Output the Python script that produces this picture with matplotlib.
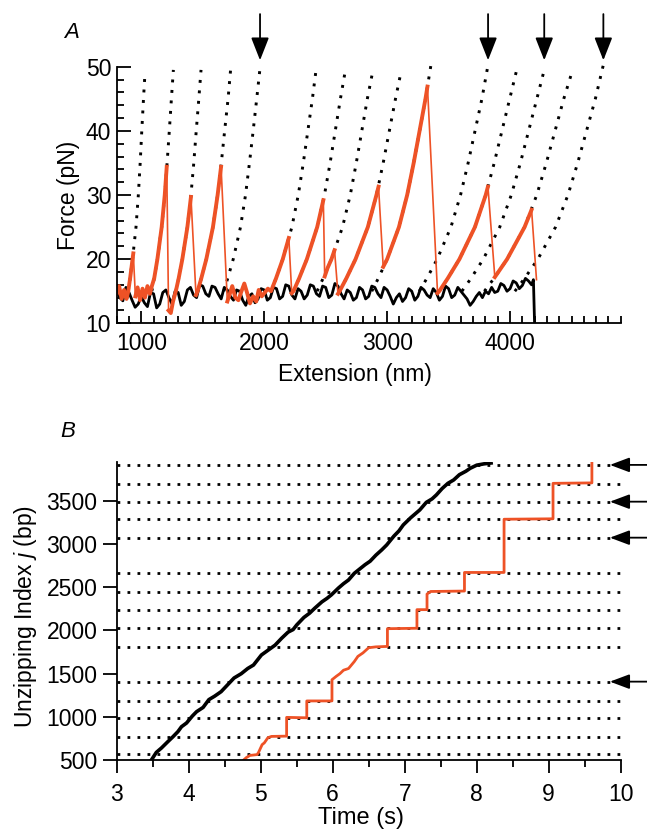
import matplotlib
matplotlib.use("Agg")
import matplotlib.pyplot as plt
from matplotlib.ticker import MultipleLocator, FixedLocator

plt.rcParams.update({"font.family": ["Liberation Sans", "DejaVu Sans"],
                     "mathtext.fontset": "custom",
                     "mathtext.rm": "Liberation Sans",
                     "mathtext.it": "Liberation Sans:italic",
                     "axes.linewidth": 1.3})

ORANGE = "#EE5226"
DOTS = (0, (1, 2.6))

# ---------------------------------------------------------------- panel A data
# dotted model curves, x read at these forces (pN); last point is each curve's top
DOT_F = [15, 17, 20, 25, 30, 35, 40, 45]
DOT_TOP_F = [49.0, 49.5, 49.5, 50.3, 49.8, 50.0, 49.2, 49.0, 49.2, 50.1,
             50.3, 49.5, 49.5, 49.0, 50.3]
DOT_X = [
    [894, 909, 929, 957, 976, 991, 1004, 1018, 1030],
    [1086, 1105, 1131, 1166, 1191, 1210, 1228, 1245, 1261],
    [1281, 1304, 1334, 1375, 1404, 1427, 1447, 1468, 1486],
    [1458, 1488, 1529, 1583, 1621, 1651, 1678, 1706, 1730],
    [1671, 1703, 1748, 1807, 1848, 1880, 1910, 1939, 1966],
    [2055, 2096, 2151, 2225, 2277, 2318, 2355, 2392, 2425],
    [2238, 2284, 2347, 2431, 2490, 2536, 2578, 2620, 2658],
    [2430, 2479, 2547, 2637, 2700, 2749, 2794, 2839, 2880],
    [2613, 2668, 2743, 2843, 2913, 2968, 3018, 3068, 3113],
    [2875, 2928, 3000, 3096, 3163, 3216, 3264, 3312, 3355],
    [3261, 3323, 3407, 3519, 3597, 3659, 3715, 3771, 3821],
    [3424, 3493, 3588, 3714, 3802, 3871, 3934, 3997, 4054],
    [3608, 3682, 3782, 3916, 4010, 4084, 4151, 4218, 4278],
    [3791, 3869, 3976, 4118, 4217, 4295, 4366, 4437, 4501],
    [4039, 4118, 4226, 4370, 4471, 4550, 4622, 4694, 4759],
]
ARROW_CURVES = [4, 10, 12, 14]

# black trace (no pauses), read every 25 nm
BLACK_EXT = list(range(800, 4151, 25)) + [4175, 4190, 4200]
BLACK_F = [
    15.5, 14.0, 13.5, 15.6, 14.8, 13.6, 12.5, 13.0, 14.2, 13.2,
    12.6, 14.8, 14.6, 12.4, 13.0, 14.8, 15.2, 14.0, 13.0, 15.0,
    14.8, 12.8, 13.4, 15.2, 15.6, 14.4, 14.0, 16.0, 15.8, 14.6,
    14.2, 15.8, 15.6, 14.6, 13.8, 15.6, 15.2, 14.2, 13.6, 15.2,
    15.0, 13.6, 12.8, 14.2, 14.6, 13.2, 13.8, 15.4, 15.2, 13.6,
    14.0, 15.6, 15.4, 13.8, 14.2, 16.0, 15.8, 14.4, 13.8, 15.4,
    15.0, 13.8, 14.4, 16.0, 15.8, 14.6, 14.2, 15.8, 15.6, 14.0,
    14.4, 16.2, 15.8, 14.6, 13.8, 15.2, 14.8, 13.6, 14.0, 15.6,
    15.2, 13.8, 14.2, 15.8, 15.6, 14.6, 14.0, 15.6, 15.2, 14.2,
    13.0, 14.0, 14.6, 13.4, 14.0, 15.4, 15.0, 13.6, 14.2, 15.6,
    15.2, 14.4, 14.0, 15.4, 14.8, 13.6, 14.2, 15.8, 15.4, 14.0,
    14.4, 15.6, 15.0, 14.4, 13.8, 12.8, 13.4, 14.2, 14.8, 14.0,
    15.0, 14.6, 15.6, 14.8, 15.0, 16.2, 15.9, 15.0, 15.4, 16.6,
    16.3, 15.4, 15.9, 17.0, 16.6, 16.0, 16.8, 9.5]

# orange trace, one list per rise (drops join consecutive rises)
ORANGE_EXT = [
    [800, 820, 840, 860, 880, 894, 909, 929, 935],
    [952, 970, 990, 1010, 1030, 1050, 1070, 1086, 1105, 1131, 1166, 1191, 1207],
    [1222, 1240, 1258, 1281, 1304, 1334, 1375, 1404],
    [1445, 1458, 1488, 1529, 1583, 1621, 1649],
    [1700, 1720, 1740, 1765, 1790, 1815, 1838, 1860, 1884, 1910, 1935, 1955,
     1980, 2005, 2030, 2055, 2096, 2151, 2200],
    [2224, 2238, 2284, 2347, 2431, 2481],
    [2492, 2515, 2547, 2572],
    [2600, 2613, 2668, 2743, 2843, 2913, 2930],
    [2968, 3000, 3096, 3163, 3216, 3264, 3312, 3328],
    [3410, 3424, 3493, 3588, 3714, 3802, 3820],
    [3876, 3976, 4118, 4175],
    [4215],
]
ORANGE_F = [
    [14.6, 15.8, 13.8, 15.2, 13.8, 15.0, 17.0, 20.0, 20.9],
    [14.2, 15.6, 13.6, 15.4, 14.0, 15.8, 14.6, 15.8, 17.0, 20.0, 25.0, 30.0, 34.4],
    [12.0, 11.6, 13.4, 15.0, 17.0, 20.0, 25.0, 29.7],
    [14.4, 15.0, 17.0, 20.0, 25.0, 30.0, 34.4],
    [13.4, 14.6, 15.8, 14.0, 13.6, 15.0, 16.2, 14.8, 13.1, 14.2, 13.4, 15.2,
     14.2, 14.8, 15.4, 15.0, 17.0, 20.0, 23.3],
    [14.7, 15.0, 17.0, 20.0, 25.0, 29.2],
    [17.3, 18.6, 20.0, 21.4],
    [14.6, 15.0, 17.0, 20.0, 25.0, 30.0, 31.3],
    [18.8, 20.0, 25.0, 30.0, 35.0, 40.0, 45.0, 46.9],
    [14.7, 15.0, 17.0, 20.0, 25.0, 30.0, 31.3],
    [17.2, 20.0, 25.0, 27.7],
    [16.8],
]

# ---------------------------------------------------------------- panel B data
B_LINES = [568, 772, 984, 1184, 1408, 1812, 2025, 2236, 2448, 2661,
           3072, 3285, 3488, 3690, 3913]
B_ARROWS = [3913, 3488, 3072, 1408]

BLACK_T = [3.48, 3.55, 3.62, 3.71, 3.78, 3.85, 3.90, 3.97, 4.05, 4.11,
           4.20, 4.28, 4.36, 4.45, 4.55, 4.63, 4.73, 4.82, 4.90, 5.01,
           5.10, 5.20, 5.29, 5.38, 5.45, 5.50, 5.60, 5.68, 5.75, 5.85,
           5.92, 5.98, 6.08, 6.15, 6.22, 6.30, 6.36, 6.45, 6.52, 6.60,
           6.68, 6.75, 6.85, 6.92, 6.98, 7.08, 7.15, 7.21, 7.30, 7.38,
           7.44, 7.52, 7.60, 7.68, 7.76, 7.85, 7.91, 8.00, 8.10, 8.20]
BLACK_J = [500, 590, 640, 714, 770, 830, 887, 930, 1010, 1061,
           1110, 1200, 1240, 1292, 1380, 1450, 1500, 1560, 1600, 1716,
           1770, 1830, 1909, 1980, 2010, 2063, 2150, 2200, 2256, 2330,
           2370, 2410, 2490, 2540, 2583, 2660, 2700, 2760, 2800, 2870,
           2930, 2988, 3090, 3150, 3219, 3300, 3350, 3393, 3480, 3520,
           3566, 3640, 3700, 3739, 3800, 3840, 3874, 3910, 3925, 3935]

ORANGE_T = [4.76, 4.80, 4.85, 4.95, 4.97, 5.02, 5.05, 5.10, 5.15, 5.36, 5.36,
            5.64, 5.64, 5.99, 5.99, 6.05, 6.10, 6.15, 6.22, 6.30, 6.35, 6.42,
            6.50, 6.60, 6.76, 6.76, 7.17, 7.17, 7.31, 7.31, 7.36, 7.83, 7.83,
            8.38, 8.38, 9.06, 9.06, 9.60, 9.60]
ORANGE_J = [500, 530, 555, 565, 590, 680, 700, 760, 775, 778, 995,
            990, 1185, 1185, 1430, 1470, 1500, 1540, 1560, 1640, 1700, 1740,
            1800, 1810, 1815, 2020, 2025, 2240, 2240, 2420, 2450, 2455, 2670,
            2670, 3285, 3290, 3700, 3705, 3950]

W, H = 647, 831
fig = plt.figure(figsize=(W / 100, H / 100), dpi=100)


def _axes(x0, y0, x1, y1):
    return fig.add_axes([x0 / W, 1 - y1 / H, (x1 - x0) / W, (y1 - y0) / H])


def _spines(ax):
    for s in ("top", "right"):
        ax.spines[s].set_visible(False)


# ---------------------------------------------------------------- panel A
ax = _axes(116.7, 66.7, 620.7, 323.3)
_spines(ax)
for xs, top in zip(DOT_X, DOT_TOP_F):
    ax.plot(xs, DOT_F + [top], color="black", lw=2.1, ls=DOTS, clip_on=False)
ax.plot(BLACK_EXT, BLACK_F, color="black", lw=2.0)
all_x = [x for seg in ORANGE_EXT for x in seg]
all_f = [f for seg in ORANGE_F for f in seg]
ax.plot(all_x, all_f, color=ORANGE, lw=1.2)
for xs, fs in zip(ORANGE_EXT, ORANGE_F):
    ax.plot(xs, fs, color=ORANGE, lw=2.8, solid_joinstyle="round")
for i in ARROW_CURVES:
    x = DOT_X[i][-1]
    ax.annotate("", xy=(x, 51.0), xytext=(x, 58.2),
                arrowprops=dict(arrowstyle="-|>,head_length=1.4,head_width=0.55",
                                color="black", lw=1.3, shrinkA=0, shrinkB=0,
                                mutation_scale=10),
                annotation_clip=False)
ax.set_xlim(800, 4900)
ax.set_ylim(10, 50)
ax.xaxis.set_major_locator(MultipleLocator(1000))
ax.xaxis.set_minor_locator(MultipleLocator(100))
ax.yaxis.set_major_locator(MultipleLocator(10))
ax.yaxis.set_minor_locator(MultipleLocator(2))
ax.tick_params(which="both", direction="in", width=1.3, labelsize=16.5)
ax.tick_params(axis="x", which="major", length=9, pad=6)
ax.tick_params(axis="y", which="major", length=10, pad=4)
ax.tick_params(which="minor", length=5)
ax.set_xlabel("Extension (nm)", fontsize=16.5)
ax.xaxis.set_label_coords(0.473, -0.2, transform=ax.transAxes)
ax.xaxis.label.set_va("center")
ax.set_ylabel("Force (pN)", fontsize=16.5, va="center")
ax.yaxis.set_label_coords(-0.096, 0.5)
fig.text(72 / W, 1 - 33 / H, "A", fontsize=16, style="italic",
         ha="center", va="center")

# ---------------------------------------------------------------- panel B
bx = _axes(116.7, 461.7, 620.7, 760.2)
_spines(bx)
for j in B_LINES:
    bx.plot([3, 10], [j, j], color="black", lw=2.0, ls=DOTS)
bx.plot(BLACK_T, BLACK_J, color="black", lw=2.6)
bx.plot(ORANGE_T, ORANGE_J, color=ORANGE, lw=2.0)
for j in B_ARROWS:
    bx.annotate("", xy=(9.85, j), xytext=(10.45, j),
                arrowprops=dict(arrowstyle="-|>,head_length=1.2,head_width=0.45",
                                color="black", lw=1.3, shrinkA=0, shrinkB=0,
                                mutation_scale=10),
                annotation_clip=False)
bx.set_xlim(3, 10)
bx.set_ylim(500, 3950)
bx.xaxis.set_major_locator(MultipleLocator(1))
bx.xaxis.set_minor_locator(MultipleLocator(0.5))
bx.yaxis.set_major_locator(FixedLocator([500, 1000, 1500, 2000, 2500, 3000, 3500]))
bx.tick_params(which="both", direction="out", width=1.3, labelsize=16.5)
bx.tick_params(axis="x", which="major", length=9.5, pad=7)
bx.tick_params(axis="x", which="minor", length=5)
bx.tick_params(axis="y", which="major", length=10, pad=4)
bx.set_xlabel("Time (s)", fontsize=17, va="center")
bx.xaxis.set_label_coords(0.485, -0.194)
bx.set_ylabel(r"Unzipping Index $\it{j}$ (bp)", fontsize=16.5, va="center")
bx.yaxis.set_label_coords(-0.18, 0.48)
fig.text(68 / W, 1 - 432 / H, "B", fontsize=16, style="italic",
         ha="center", va="center")

fig.savefig("out.png", dpi=100)
